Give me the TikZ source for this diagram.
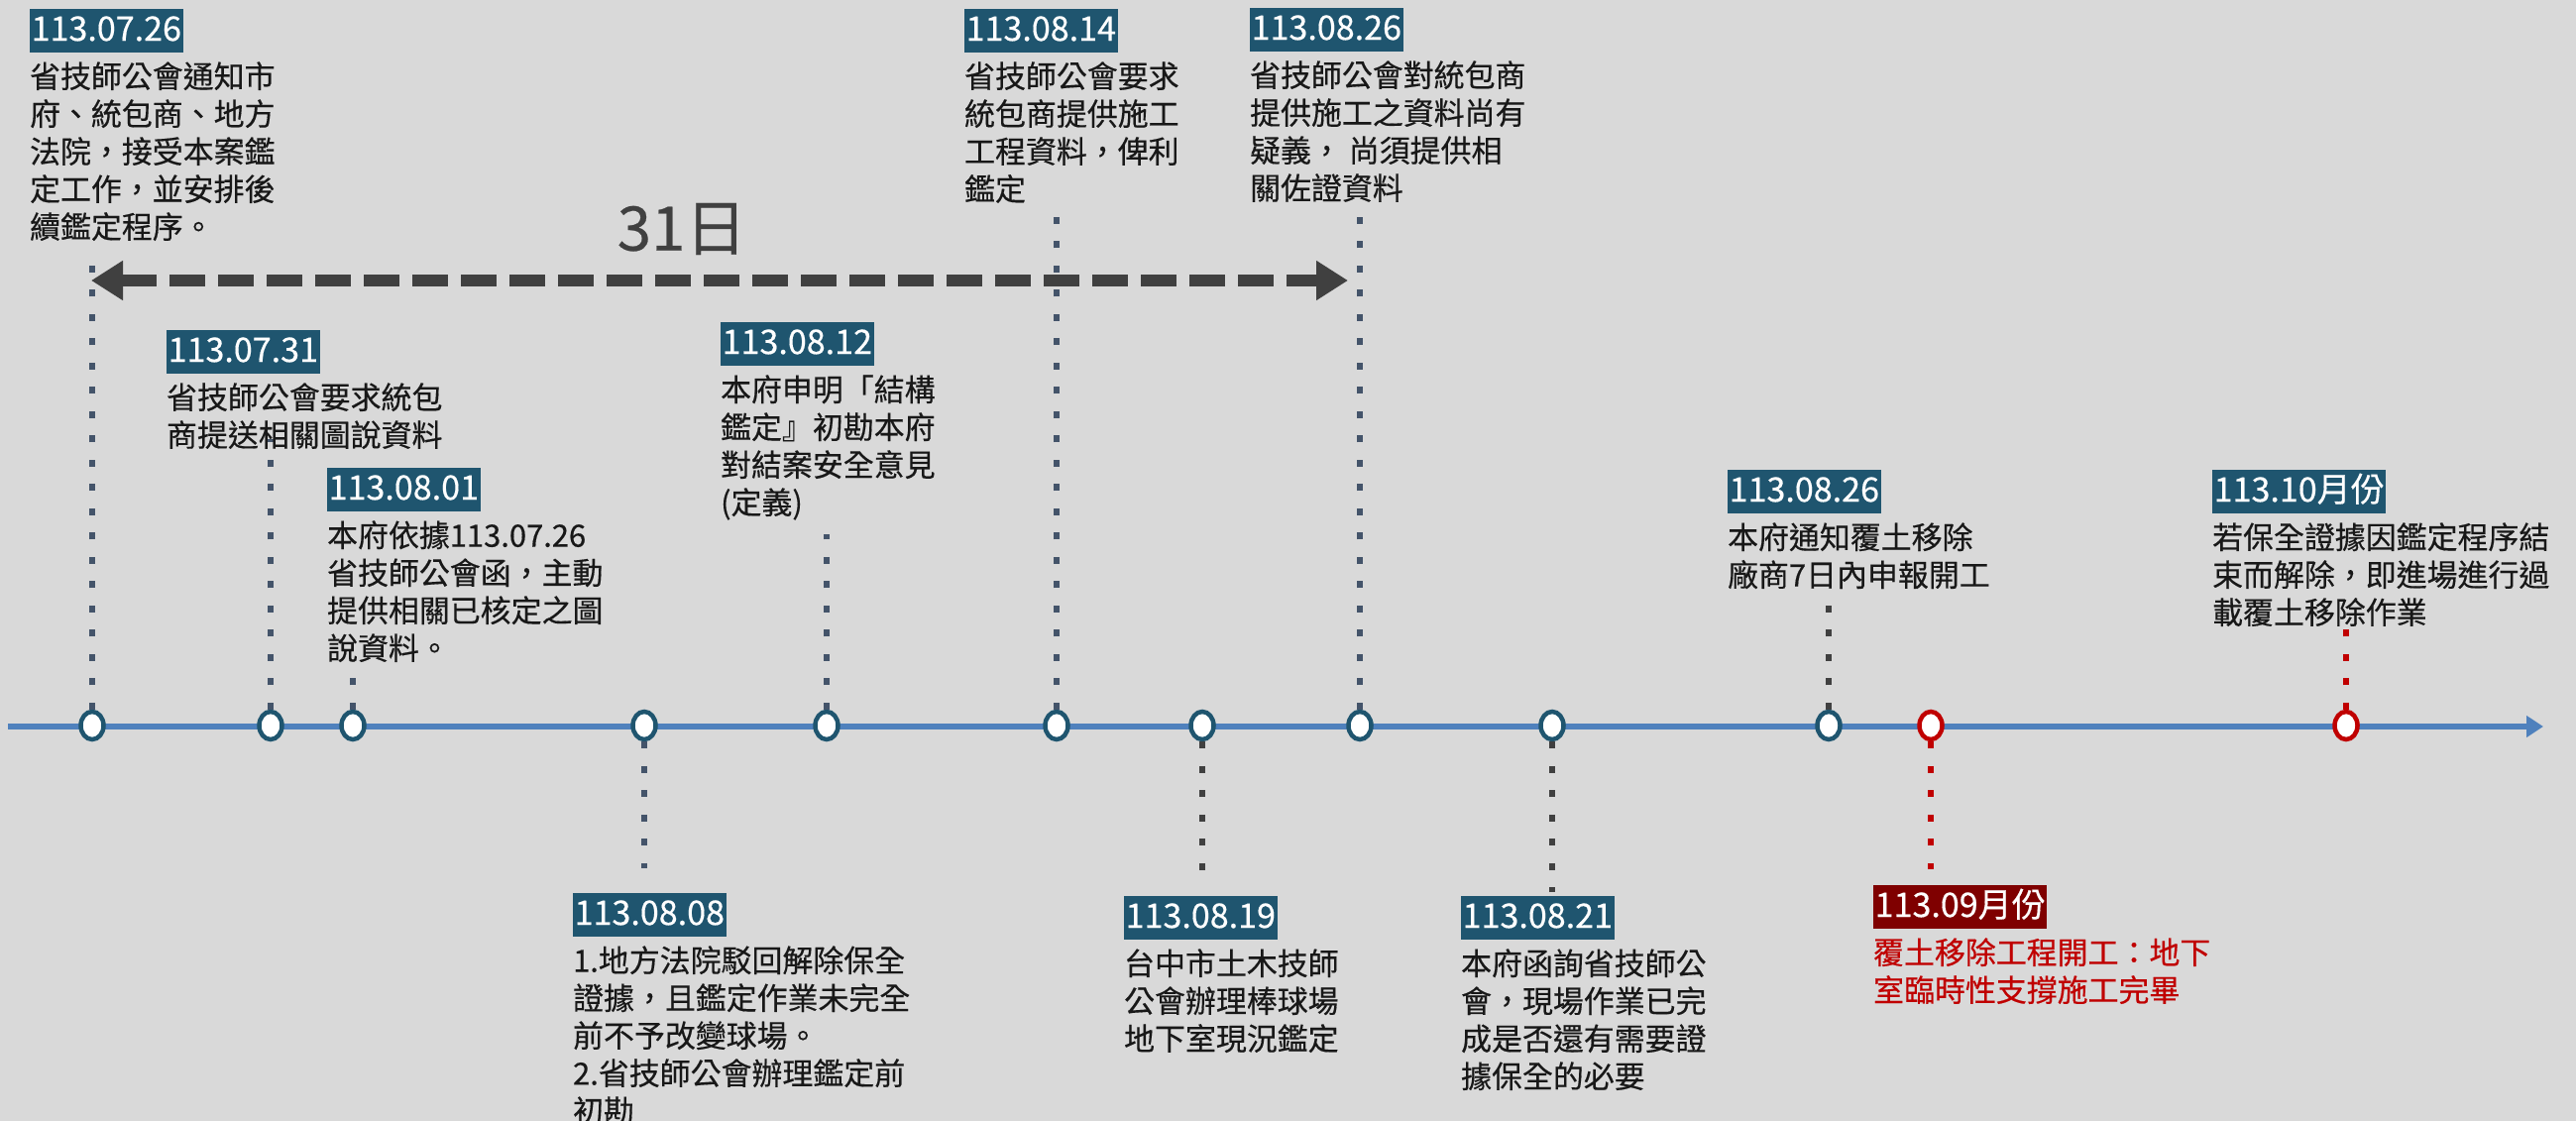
\documentclass[tikz,border=0pt]{standalone}
\usepackage{fontspec}
\setmainfont[FakeBold=0.4]{Noto Sans CJK TC}
\usetikzlibrary{positioning, arrows.meta, shapes.geometric}

\definecolor{bgGray}{RGB}{217,217,217}
\definecolor{boxTeal}{RGB}{31,85,111}
\definecolor{boxRed}{RGB}{127,0,0}
\definecolor{markRed}{RGB}{192,0,0}
\definecolor{axisBlue}{RGB}{79,129,189}
\definecolor{dotBlue}{RGB}{68,84,106}
\definecolor{dotGray}{RGB}{64,64,64}
\definecolor{noteBlack}{RGB}{24,24,24}

\begin{document}
\begin{tikzpicture}[x=0.1mm, y=-0.1mm, very thick]
	\tikzstyle{event}    = [ellipse, minimum width=2.3mm, minimum height=2.8mm, inner sep=0pt, line width=0.45mm, draw=boxTeal, fill=white]
	\tikzstyle{eventR}   = [event, draw=markRed]
	\tikzstyle{datebox}  = [anchor=north west, fill=boxTeal, text=white, inner xsep=0.15mm, inner ysep=0.8mm, text height=2.4mm, text depth=0.4mm, font=\fontsize{9.7pt}{11pt}\selectfont]
	\tikzstyle{dateboxR} = [datebox, fill=boxRed]
	\tikzstyle{note}     = [inner sep=0pt, align=left, text=noteBlack, font=\fontsize{8.8pt}{10.8pt}\selectfont]
	\tikzstyle{noteR}    = [note, text=markRed]
	\tikzstyle{link}     = [line width=0.65mm, dash pattern=on 0.7mm off 1.75mm]
	\tikzstyle{axis}     = [line width=0.6mm, axisBlue, -{Triangle[length=1.7mm, width=2.1mm]}]
	\tikzstyle{span}     = [line width=1.2mm, dotGray, dash pattern=on 3.6mm off 1.3mm, {Triangle[length=3.2mm, width=3.8mm]}-{Triangle[length=3.2mm, width=3.8mm]}]

	\fill[bgGray] (0,0) rectangle (2599,1131);
	\useasboundingbox (0,0) rectangle (2599,1131);

%	\draw[step=100, gray!50] (0,0) grid (2599,1131);

	\coordinate (start) at (8,733);
	\coordinate (end) at (2566,733);
	\draw[axis] (start) -- (end);

	\foreach \name/\x/\styl in {e1/93/, e2/273/, e3/356/, e4/650/, e5/834/, e6/1066/, e7/1213/, e8/1372/, e9/1566/, e10/1845/, e11/1948/R, e12/2367/R}
		\node[event\styl] (\name) at (\x, 732) {};

	\foreach \name/\x/\y in {t1/93/257, t2/273/443, t3/356/677, t4/650/876, t5/834/539, t6/1066/215, t7/1213/892, t8/1372/215, t9/1566/900, t10/1845/602, t11/1948/877, t12/2367/635}
		\coordinate (\name) at (\x, \y);

	\foreach \from/\to/\col in {e1/t1/dotBlue, e2/t2/dotBlue, e3/t3/dotBlue, e4/t4/dotBlue, e5/t5/dotBlue, e6/t6/dotBlue, e7/t7/dotGray, e8/t8/dotBlue, e9/t9/dotGray, e10/t10/dotGray, e11/t11/markRed, e12/t12/markRed}
		\draw[link, \col] (\from) -- (\to);

	% 31 days
	\coordinate (dl) at (92,283);
	\coordinate (dr) at (1360,283);
	\draw[span] (dl) -- (dr);
	\node[text=dotGray, inner sep=0pt, font=\fontsize{17.6pt}{20pt}\selectfont] (days) at (688,231) {31日};

	\node[datebox] (d1) at (28,7) {113.07.26};
	\node[note, below right=0.5mm and 0mm of d1.south west] (n1) {省技師公會通知市\\府、統包商、地方\\法院，接受本案鑑\\定工作，並安排後\\續鑑定程序。};

	\node[datebox] (d2) at (166,331) {113.07.31};
	\node[note, below right=0.5mm and 0mm of d2.south west] (n2) {省技師公會要求統包\\商提送相關圖說資料};

	\node[datebox] (d3) at (328,470) {113.08.01};
	\node[note, below right=0.5mm and 0mm of d3.south west] (n3) {本府依據113.07.26\\省技師公會函，主動\\提供相關已核定之圖\\說資料。};

	\node[datebox] (d4) at (576,899) {113.08.08};
	\node[note, below right=0.5mm and 0mm of d4.south west] (n4) {1.地方法院駁回解除保全\\證據，且鑑定作業未完全\\前不予改變球場。\\2.省技師公會辦理鑑定前\\初勘};

	\node[datebox] (d5) at (725,323) {113.08.12};
	\node[note, below right=0.5mm and 0mm of d5.south west] (n5) {本府申明「結構\\鑑定』初勘本府\\對結案安全意見\\(定義)};

	\node[datebox] (d6) at (971,7) {113.08.14};
	\node[note, below right=0.5mm and 0mm of d6.south west] (n6) {省技師公會要求\\統包商提供施工\\工程資料，俾利\\鑑定};

	\node[datebox] (d7) at (1132,902) {113.08.19};
	\node[note, below right=0.5mm and 0mm of d7.south west] (n7) {台中市土木技師\\公會辦理棒球場\\地下室現況鑑定};

	\node[datebox] (d8) at (1259,6) {113.08.26};
	\node[note, below right=0.5mm and 0mm of d8.south west] (n8) {省技師公會對統包商\\提供施工之資料尚有\\疑義， 尚須提供相\\關佐證資料};

	\node[datebox] (d9) at (1472,902) {113.08.21};
	\node[note, below right=0.5mm and 0mm of d9.south west] (n9) {本府函詢省技師公\\會，現場作業已完\\成是否還有需要證\\據保全的必要};

	\node[datebox] (d10) at (1741,472) {113.08.26};
	\node[note, below right=0.5mm and 0mm of d10.south west] (n10) {本府通知覆土移除\\廠商7日內申報開工};

	\node[dateboxR] (d11) at (1888,891) {113.09月份};
	\node[noteR, below right=0.5mm and 0mm of d11.south west] (n11) {覆土移除工程開工：地下\\室臨時性支撐施工完畢};

	\node[datebox] (d12) at (2230,472) {113.10月份};
	\node[note, below right=0.5mm and 0mm of d12.south west] (n12) {若保全證據因鑑定程序結\\束而解除，即進場進行過\\載覆土移除作業};

\end{tikzpicture}
\end{document}
